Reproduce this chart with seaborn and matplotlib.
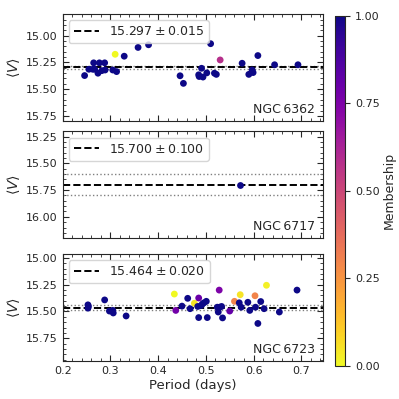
import numpy as np
import pandas as pd
import matplotlib
matplotlib.use("Agg")
import matplotlib.pyplot as plt
from matplotlib.ticker import AutoMinorLocator, MultipleLocator, FormatStrFormatter
import seaborn as sns

# NGC 6362
p_6362 = [0.246, 0.255, 0.263, 0.265, 0.267, 0.274, 0.277, 0.282, 0.288, 0.289,
          0.305, 0.313, 0.310, 0.329, 0.358, 0.380, 0.446, 0.453, 0.485, 0.491,
          0.486, 0.494, 0.502, 0.510, 0.530, 0.518, 0.522, 0.576, 0.590, 0.597,
          0.599, 0.609, 0.644, 0.693]
v_6362 = [15.373, 15.314, 15.314, 15.254, 15.314, 15.351, 15.254, 15.327, 15.254, 15.321,
          15.321, 15.336, 15.174, 15.192, 15.110, 15.085, 15.375, 15.446, 15.366, 15.305,
          15.382, 15.387, 15.348, 15.075, 15.227, 15.351, 15.362, 15.258, 15.362, 15.321,
          15.345, 15.186, 15.272, 15.272]
m_6362 = [1.0] * 12 + [0.0] + [1.0] * 11 + [0.58] + [1.0] * 9

# NGC 6717
p_6717 = [0.571]
v_6717 = [15.700]
m_6717 = [1.0]

# NGC 6723
p_6723 = [0.253, 0.253, 0.254, 0.288, 0.298, 0.305, 0.306, 0.333, 0.434, 0.437,
          0.450, 0.462, 0.467, 0.476, 0.483, 0.485, 0.485, 0.503, 0.493, 0.496,
          0.501, 0.490, 0.528, 0.524, 0.529, 0.533, 0.526, 0.535, 0.550, 0.560,
          0.570, 0.574, 0.572, 0.588, 0.592, 0.603, 0.604, 0.615, 0.622, 0.609,
          0.627, 0.654, 0.691]
v_6723 = [15.438, 15.469, 15.453, 15.392, 15.496, 15.490, 15.514, 15.542, 15.337, 15.490,
          15.450, 15.377, 15.474, 15.423, 15.453, 15.374, 15.557, 15.557, 15.429, 15.419,
          15.405, 15.444, 15.300, 15.460, 15.460, 15.453, 15.505, 15.560, 15.496, 15.405,
          15.419, 15.460, 15.343, 15.414, 15.490, 15.353, 15.460, 15.407, 15.474, 15.612,
          15.255, 15.505, 15.300]
m_6723 = [1.0] * 8 + [0.0, 0.78, 1.0, 1.0, 1.0, 0.05, 1.0, 0.8, 1.0, 1.0, 1.0, 1.0,
          1.0, 1.0, 0.75, 1.0, 1.0, 1.0, 1.0, 1.0, 0.82, 0.3, 1.0, 1.0, 0.05, 1.0,
          1.0, 0.3, 1.0, 1.0, 1.0, 1.0, 0.02, 1.0, 1.0]

clusters = ["NGC\u20096362", "NGC\u20096717", "NGC\u20096723"]
means = [15.297, 15.700, 15.464]
errs = [0.015, 0.100, 0.020]
yticks = [[15.00, 15.25, 15.50, 15.75],
          [15.25, 15.50, 15.75, 16.00],
          [15.00, 15.25, 15.50, 15.75]]
data = [(p_6362, v_6362, m_6362), (p_6717, v_6717, m_6717), (p_6723, v_6723, m_6723)]

sns.set_style("ticks")
plt.rcParams['font.family'] = ['DejaVu Sans']

fig = plt.figure(figsize=(3.99, 3.99), dpi=100)
left, width, h = 0.157, 0.652, 0.268
bottoms = [0.697, 0.403, 0.095]
axes = [fig.add_axes([left, b, width, h]) for b in bottoms]

for ax, name, mu, err, yt, (p, v, m) in zip(axes, clusters, means, errs, yticks, data):
    df = pd.DataFrame({"period": p, "V": v, "memb": m})
    sns.scatterplot(data=df, x="period", y="V", hue="memb", palette="plasma_r",
                    hue_norm=(0, 1), s=24, linewidth=0, legend=False, ax=ax, zorder=3)
    ax.axhline(mu, color="black", ls="--", lw=1.4, zorder=2,
               label=r"$%.3f \pm %.3f$" % (mu, err))
    ax.axhline(mu - err, color="gray", ls=":", lw=1, zorder=1)
    ax.axhline(mu + err, color="gray", ls=":", lw=1, zorder=1)
    ax.set_xlim(0.2, 0.745)
    ax.set_ylim(mu + 0.5, mu - 0.5)
    ax.set_yticks(yt)
    ax.yaxis.set_major_formatter(FormatStrFormatter("%.2f"))
    ax.xaxis.set_major_locator(MultipleLocator(0.1))
    ax.xaxis.set_minor_locator(AutoMinorLocator(5))
    ax.yaxis.set_minor_locator(AutoMinorLocator(5))
    ax.tick_params(which="both", direction="in", top=True, right=True, labelsize=8)
    ax.tick_params(which="major", length=4)
    ax.tick_params(which="minor", length=2)
    ax.set_ylabel(r"$\langle V \rangle$", fontsize=10, labelpad=3)
    ax.set_xlabel("")
    ax.legend(loc="upper left", fontsize=9)
    ax.text(0.97, 0.05, name, transform=ax.transAxes, ha="right", va="bottom", fontsize=9)

for ax in axes[:2]:
    ax.set_xticklabels([])
axes[2].set_xlabel("Period (days)", fontsize=9.5, labelpad=2)

cax = fig.add_axes([0.84, 0.083, 0.025, 0.877])
sm = plt.cm.ScalarMappable(cmap="plasma_r", norm=plt.Normalize(0, 1))
cb = fig.colorbar(sm, cax=cax, ticks=[0, 0.25, 0.5, 0.75, 1.0], format="%.2f")
cb.set_label("Membership", fontsize=9, labelpad=2)
cb.ax.tick_params(labelsize=8)

fig.savefig("out.png", dpi=100)
